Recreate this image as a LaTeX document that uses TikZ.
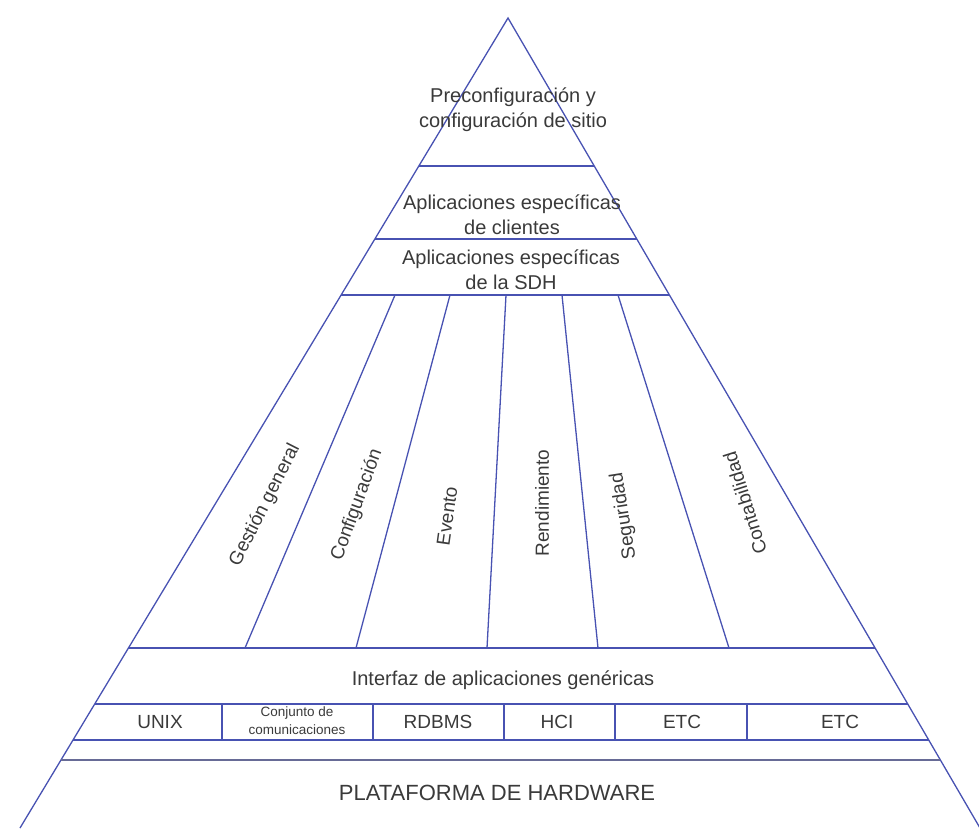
\documentclass[tikz,border=0pt]{standalone}
\usepackage{fontspec}
\setmainfont{Liberation Sans}
\usetikzlibrary{calc}

\definecolor{linea}{RGB}{72,82,178}
\definecolor{texto}{RGB}{58,58,58}

\tikzset{
  tramo/.style={draw=linea, line width=1.3pt},
  rotulo/.style={text=texto, align=center, inner sep=0pt,
    font=\fontsize{20}{25}\selectfont},
}

\begin{document}
\begin{tikzpicture}[x=1pt,y=-1pt]

      \useasboundingbox (0,0) rectangle (979,828);
      \clip (0,0) rectangle (979,828);

      \coordinate (apex) at (508,18);
      \coordinate (bl)   at (20,828);
      \coordinate (br)   at (980,828);

      % bordes de la piramide y bandas
      \path[tramo] (bl) -- (apex) -- (br);
      \foreach \t [count=\n] in {0.1827,0.2728,0.342,0.7778,0.8469,0.8914} {
        \coordinate (l\n) at ($(apex)!\t!(bl)$);
        \coordinate (r\n) at ($(apex)!\t!(br)$);
        \path[tramo] (l\n) -- (r\n);
      }
      \coordinate (l7) at ($(apex)!0.916!(bl)$);
      \coordinate (r7) at ($(apex)!0.916!(br)$);
      \path[tramo, draw=linea!45!gray, line width=2.2pt] (l7) -- (r7);

      % columnas de gestion
      \foreach \a/\b [count=\i] in {395/245,450/356,506/487,562/598,618/729} {
        \coordinate (ta\i) at (\a,295);
        \coordinate (ba\i) at (\b,648);
        \path[tramo] (ta\i) -- (ba\i);
      }

      % fila de componentes
      \foreach \a [count=\i] in {222,373,504,615,747} {
        \coordinate (tc\i) at (\a,704);
        \coordinate (bc\i) at (\a,740);
        \path[tramo] (tc\i) -- (bc\i);
      }

      \begin{scope}[every node/.style={rotulo}]
        \node (pre) at (513,110) {Preconfiguración y\\configuración de sitio};
        \node (cli) at (512,215) {Aplicaciones específicas\\de clientes};
        \node (sdh) at (511,270) {Aplicaciones específicas\\de la SDH};
        \node (inf) at (503,680) {Interfaz de aplicaciones genéricas};
        \node[font=\fontsize{22}{26}\selectfont] (hw) at (497,793) {PLATAFORMA DE HARDWARE};
      \end{scope}

      \begin{scope}[every node/.style={rotulo, font=\fontsize{19}{23}\selectfont}]
        \node[rotate=63]    (ges) at (265,505) {Gestión general};
        \node[rotate=70]    (con) at (357,505) {Configuración};
        \node[rotate=82]    (eve) at (447,516) {Evento};
        \node[rotate=90]    (ren) at (542,503) {Rendimiento};
        \node[rotate=99]    (seg) at (624,516) {Seguridad};
        \node[rotate=107.6] (cnt) at (745,503) {Contabilidad};

        \node (unx) at (160,722) {UNIX};
        \node[font=\fontsize{13.5}{18}\selectfont] (com) at (297,721) {Conjunto de\\comunicaciones};
        \node (rdb) at (438,722) {RDBMS};
        \node (hci) at (557,722) {HCI};
        \node (et1) at (682,722) {ETC};
        \node (et2) at (840,722) {ETC};
      \end{scope}

    \end{tikzpicture}
\end{document}
